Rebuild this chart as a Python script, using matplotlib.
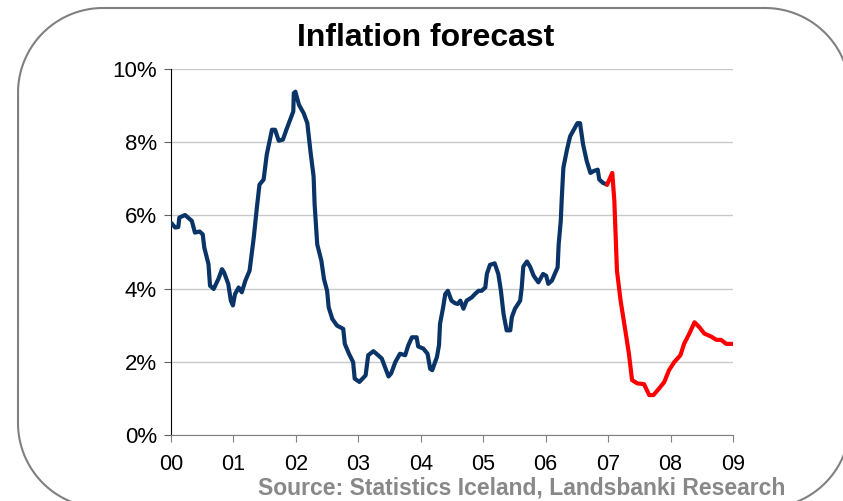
import matplotlib
matplotlib.use('Agg')
import numpy as np
import matplotlib.pyplot as plt
from matplotlib.lines import Line2D
from matplotlib.transforms import IdentityTransform
from matplotlib.ticker import FuncFormatter

plt.rcParams['font.family'] = ['Liberation Sans', 'DejaVu Sans']

# months counted from Jan 2000, inflation in %
actual_months = [0, 0.8, 1.4, 1.6, 2.7, 4.0, 4.6, 5.5, 6.1, 6.4, 7.2, 7.5, 8.2, 9.1, 9.8, 10.2,
                 11.0, 11.5, 11.9, 12.3, 13.0, 13.6, 14.3, 15.1, 15.9, 16.5, 17.0, 17.8, 18.4,
                 19.4, 20.0, 20.7, 21.5, 22.3, 23.5, 23.6, 23.9, 24.6, 25.5, 26.2, 26.8, 27.4,
                 27.6, 28.1, 28.9, 29.4, 30.0, 30.3, 31.0, 31.9, 33.1, 33.4, 34.2, 35.0, 35.3,
                 36.2, 37.4, 37.9, 38.9, 39.8, 40.5, 41.1, 41.8, 42.3, 43.1, 44.0, 45.0, 45.6,
                 46.3, 47.2, 47.5, 48.5, 49.3, 49.8, 50.2, 51.1, 51.5, 51.7, 52.3, 52.7, 53.2,
                 53.9, 54.6, 55.1, 55.6, 56.2, 56.8, 57.8, 58.4, 59.1, 59.7, 60.4, 60.7, 61.3,
                 62.2, 62.9, 63.4, 63.9, 64.5, 65.2, 65.5, 66.1, 67.1, 67.4, 67.7, 68.4, 69.0,
                 69.7, 70.6, 71.5, 72.1, 72.5, 73.2, 74.3, 74.5, 74.9, 75.1, 75.4, 76.1, 76.7,
                 77.4, 78.1, 78.6, 79.2, 79.9, 80.6, 81.2, 82.0, 82.3, 83.0, 83.8]
actual_values = [5.80, 5.67, 5.68, 5.94, 6.01, 5.85, 5.53, 5.56, 5.48, 5.12, 4.67, 4.08, 3.99, 4.26,
                 4.53, 4.44, 4.13, 3.67, 3.54, 3.85, 4.03, 3.90, 4.22, 4.49, 5.39, 6.21, 6.84,
                 6.98, 7.66, 8.34, 8.34, 8.04, 8.07, 8.39, 8.84, 9.34, 9.38, 9.02, 8.79, 8.52,
                 7.75, 7.07, 6.30, 5.21, 4.76, 4.26, 3.94, 3.49, 3.17, 2.99, 2.90, 2.49, 2.22,
                 1.99, 1.54, 1.45, 1.63, 2.18, 2.29, 2.18, 2.09, 1.86, 1.60, 1.68, 1.99, 2.22,
                 2.18, 2.45, 2.67, 2.67, 2.42, 2.36, 2.22, 1.81, 1.77, 2.13, 2.45, 3.04, 3.49,
                 3.85, 3.94, 3.67, 3.60, 3.58, 3.67, 3.45, 3.67, 3.76, 3.85, 3.94, 3.94, 4.03,
                 4.40, 4.65, 4.69, 4.40, 3.94, 3.31, 2.86, 2.86, 3.22, 3.45, 3.67, 4.03, 4.60,
                 4.74, 4.60, 4.35, 4.17, 4.40, 4.35, 4.13, 4.22, 4.58, 5.21, 5.85, 6.48, 7.30,
                 7.80, 8.16, 8.34, 8.52, 8.52, 7.93, 7.48, 7.16, 7.21, 7.25, 6.98, 6.89, 6.84]

forecast_months = [83.8, 84.8, 85.2, 85.7, 86.4, 87.4, 88.0, 88.6, 89.6, 90.9, 91.9, 92.7, 93.8,
                   94.8, 95.7, 96.7, 97.9, 98.6, 99.6, 100.6, 101.5, 102.5, 103.8, 104.8,
                   105.7, 106.7, 108.0]
forecast_values = [6.84, 7.16, 6.39, 4.49, 3.67, 2.77, 2.22, 1.50, 1.41, 1.39, 1.09, 1.09, 1.27,
                   1.45, 1.77, 1.99, 2.18, 2.49, 2.77, 3.08, 2.95, 2.77, 2.69, 2.60, 2.60, 2.49,
                   2.49]

year_labels = ['00', '01', '02', '03', '04', '05', '06', '07', '08', '09']

W, H = 843, 501
fig = plt.figure(figsize=(W / 100, H / 100), dpi=100)
fig.patch.set_facecolor('white')


def rounded_frame(x0, y0, x1, y1, r):
    # outline of a rounded rectangle in pixel coords (y measured from top)
    pts = []
    corners = [(x1 - r, y0 + r, -90, 0), (x1 - r, y1 - r, 0, 90),
               (x0 + r, y1 - r, 90, 180), (x0 + r, y0 + r, 180, 270)]
    for cx, cy, a0, a1 in corners:
        t = np.radians(np.linspace(a0, a1, 40))
        pts += list(zip(cx + r * np.cos(t), cy + r * np.sin(t)))
    pts.append(pts[0])
    xs, ys = zip(*pts)
    return np.array(xs), H - np.array(ys)


fx, fy = rounded_frame(18, 8, 850, 508, 85)
fig.lines.append(Line2D(fx, fy, transform=IdentityTransform(), color='#808080', lw=1.5))

ax = fig.add_axes([171 / W, 1 - 435 / H, (733 - 171) / W, (435 - 69) / H])

ax.plot([m / 12 for m in actual_months], actual_values, color='#0a3467', lw=3,
        solid_joinstyle='round', solid_capstyle='round', zorder=3)
ax.plot([m / 12 for m in forecast_months], forecast_values, color='#ff0000', lw=3,
        solid_joinstyle='round', solid_capstyle='round', zorder=3)

ax.set_xlim(0, 9)
ax.set_ylim(0, 10)
ax.set_xticks(range(len(year_labels)))
ax.set_xticklabels(year_labels)
ax.set_yticks([0, 2, 4, 6, 8, 10])
ax.yaxis.set_major_formatter(FuncFormatter(lambda v, p: f'{v:.0f}%'))

ax.grid(axis='y', color='#c8c8c8', linewidth=1)
ax.set_axisbelow(True)
for s in ['top', 'right']:
    ax.spines[s].set_visible(False)
ax.spines['left'].set_color('black')
ax.spines['bottom'].set_color('#808080')
ax.tick_params(axis='y', length=5, color='#606060', labelsize=16, pad=5)
ax.tick_params(axis='x', length=5, color='#808080', labelsize=15.5, pad=9)

fig.text(426 / W, 1 - 38 / H, 'Inflation forecast', ha='center', va='center',
         fontsize=23, fontweight='bold')
fig.text(785 / W, 1 - 495 / H, 'Source: Statistics Iceland, Landsbanki Research',
         ha='right', va='baseline', fontsize=16.5, fontweight='bold', color='#888888')

fig.savefig('out.png', dpi=100, facecolor='white')
